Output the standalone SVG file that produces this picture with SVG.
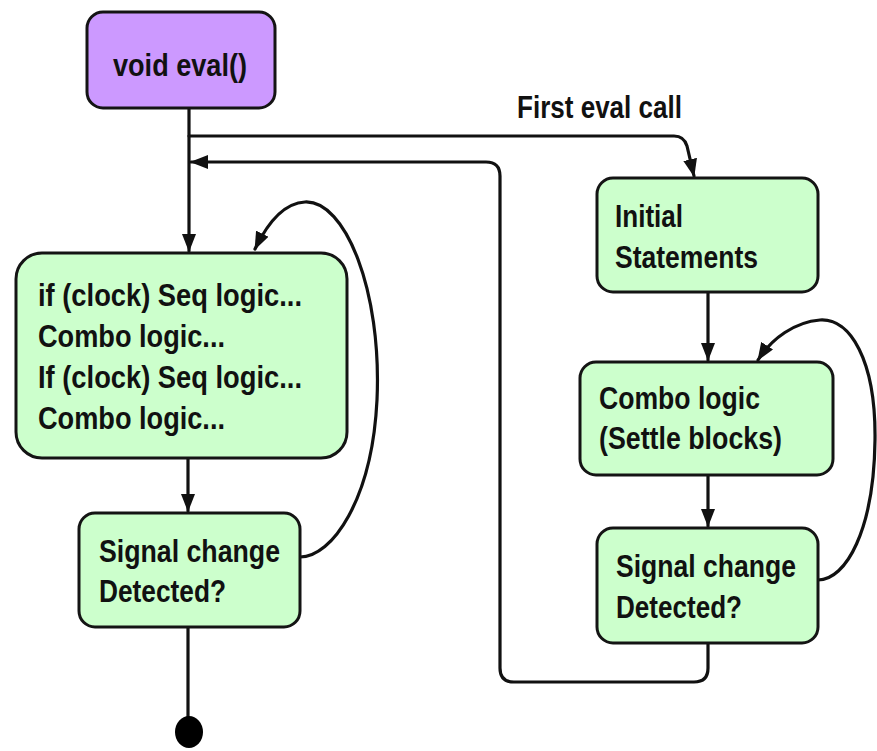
<svg xmlns="http://www.w3.org/2000/svg" width="877" height="751" viewBox="0 0 877 751">
  <style>
    .box { stroke: #141414; stroke-width: 3; }
    .start { fill: #cc99ff; }
    .step { fill: #ccffcc; }
    .lbl { font-family: "Liberation Sans", Arial, sans-serif; font-weight: bold; font-size: 31px; fill: #111; }
    .wire { fill: none; stroke: #111; stroke-width: 3.2; stroke-linejoin: round; stroke-linecap: round; }
  </style>
  <defs>
    <marker id="arrow" viewBox="0 0 18 14" refX="17" refY="7" markerWidth="18" markerHeight="14" markerUnits="userSpaceOnUse" orient="auto">
      <path d="M0,0 L18,7 L0,14 Z" fill="#111"/>
    </marker>
  </defs>
  <rect width="877" height="751" fill="#ffffff"/>

  <!-- connectors -->
  <g id="connectors">
    <!-- entry from eval() down into the main loop -->
    <path class="wire" d="M189,108 L189,251" marker-end="url(#arrow)"/>
    <!-- first eval call branch -->
    <path class="wire" d="M189,136 L674,136 Q684,136 687,146 L694,176" marker-end="url(#arrow)"/>
    <!-- return from settle loop back to main path -->
    <path class="wire" d="M708,643 L708,668 Q708,682 694,682 L514,682 Q500,682 500,668 L500,176 Q500,162 486,162 L191,162" marker-end="url(#arrow)"/>
    <!-- left column -->
    <path class="wire" d="M188,458 L188,511" marker-end="url(#arrow)"/>
    <path class="wire" d="M300,557 C332,557 372,500 377,400 C382,290 345,200 305,202 C285,203 268,222 255,249" marker-end="url(#arrow)"/>
    <path class="wire" d="M188,627 L188,720"/>
    <!-- right column -->
    <path class="wire" d="M708,292 L708,360" marker-end="url(#arrow)"/>
    <path class="wire" d="M708,475 L708,526" marker-end="url(#arrow)"/>
    <path class="wire" d="M818,580 C846,580 874,530 875,440 C876,360 850,318 820,320 C795,322 772,338 758,360" marker-end="url(#arrow)"/>
  </g>

  <g id="eval">
    <rect class="box start" x="87" y="12" width="188" height="96" rx="16"/>
    <text class="lbl" x="113" y="76" font-size="33" textLength="134" lengthAdjust="spacingAndGlyphs">void eval()</text>
  </g>

  <g id="first-call-label">
    <text class="lbl" x="517" y="118" textLength="165" lengthAdjust="spacingAndGlyphs">First eval call</text>
  </g>

  <g id="eval-body">
    <rect class="box step" x="16" y="253" width="331" height="205" rx="26"/>
    <text class="lbl" x="38" y="306" textLength="264" lengthAdjust="spacingAndGlyphs">if (clock) Seq logic...</text>
    <text class="lbl" x="38" y="347" textLength="187" lengthAdjust="spacingAndGlyphs">Combo logic...</text>
    <text class="lbl" x="38" y="388" textLength="264" lengthAdjust="spacingAndGlyphs">If (clock) Seq logic...</text>
    <text class="lbl" x="38" y="429" textLength="187" lengthAdjust="spacingAndGlyphs">Combo logic...</text>
  </g>

  <g id="change-left">
    <rect class="box step" x="79" y="513" width="221" height="114" rx="16"/>
    <text class="lbl" x="99" y="562" textLength="181" lengthAdjust="spacingAndGlyphs">Signal change</text>
    <text class="lbl" x="99" y="602" textLength="127" lengthAdjust="spacingAndGlyphs">Detected?</text>
  </g>

  <g id="end">
    <ellipse cx="189" cy="732" rx="14" ry="16" fill="#000"/>
  </g>

  <g id="initial">
    <rect class="box step" x="597" y="178" width="221" height="114" rx="16"/>
    <text class="lbl" x="615" y="227" textLength="68" lengthAdjust="spacingAndGlyphs">Initial</text>
    <text class="lbl" x="615" y="268" textLength="143" lengthAdjust="spacingAndGlyphs">Statements</text>
  </g>

  <g id="settle">
    <rect class="box step" x="580" y="362" width="253" height="113" rx="16"/>
    <text class="lbl" x="599" y="409" textLength="161" lengthAdjust="spacingAndGlyphs">Combo logic</text>
    <text class="lbl" x="599" y="449" textLength="183" lengthAdjust="spacingAndGlyphs">(Settle blocks)</text>
  </g>

  <g id="change-right">
    <rect class="box step" x="597" y="528" width="221" height="115" rx="16"/>
    <text class="lbl" x="616" y="577" textLength="180" lengthAdjust="spacingAndGlyphs">Signal change</text>
    <text class="lbl" x="616" y="618" textLength="126" lengthAdjust="spacingAndGlyphs">Detected?</text>
  </g>
</svg>
